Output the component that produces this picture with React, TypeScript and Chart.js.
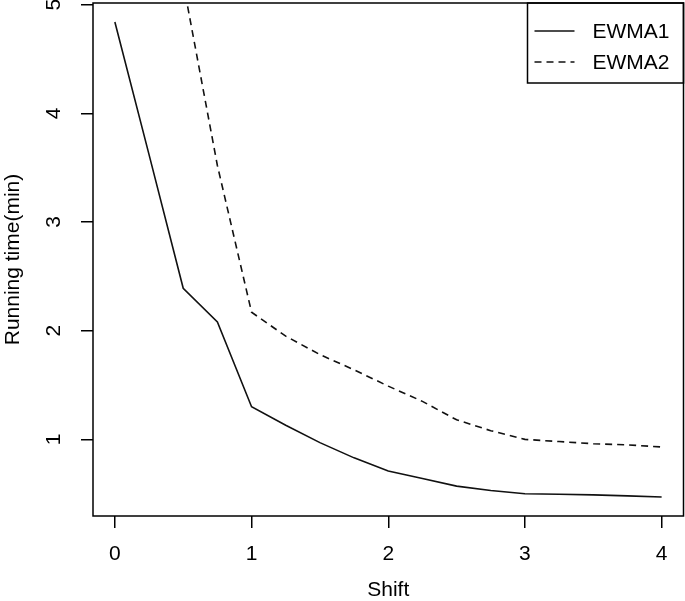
import React, { useEffect, useRef } from 'react';
import { Chart, registerables } from 'chart.js';

Chart.register(...registerables);

// ---- data ----
const shift1 = [0, 0.25, 0.5, 0.75, 1, 1.25, 1.5, 1.75, 2, 2.25, 2.5, 2.75, 3, 3.25, 3.5, 3.75, 4];
const ewma1 = [4.84, 3.62, 2.39, 2.08, 1.3, 1.13, 0.97, 0.83, 0.71, 0.64, 0.57, 0.53, 0.5, 0.495, 0.49, 0.48, 0.47];
const shift2 = [0.5, 0.75, 1, 1.25, 1.5, 1.75, 2, 2.25, 2.5, 2.75, 3, 3.25, 3.5, 3.75, 4];
const ewma2 = [5.2, 3.52, 2.17, 1.95, 1.78, 1.64, 1.49, 1.35, 1.18, 1.08, 1.0, 0.98, 0.96, 0.95, 0.93];
const seriesNames = ['EWMA1', 'EWMA2'];
const xTicks = [0, 1, 2, 3, 4];
const yTicks = [1, 2, 3, 4, 5];
const xTitle = 'Shift';
const yTitle = 'Running time(min)';

const FONT = "'Liberation Sans', Arial, Helvetica, sans-serif";
const INK = '#000000';

export default function App() {
  const ref = useRef<HTMLCanvasElement>(null);

  useEffect(() => {
    const canvas = ref.current;
    if (!canvas) return;

    // R-style axis ranges (4% extension of data range)
    const xLo = Math.min(...shift1), xHi = Math.max(...shift1);
    const xExt = 0.04 * (xHi - xLo);
    const yLo = Math.min(...ewma1), yHi = Math.max(...ewma1);
    const yExt = 0.04 * (yHi - yLo);

    const framePlugin = {
      id: 'rframe',
      afterDraw(chart: any) {
        const { ctx, chartArea: a } = chart;
        ctx.save();
        ctx.setLineDash([]);
        ctx.strokeStyle = INK;
        ctx.lineWidth = 1.5;
        ctx.strokeRect(a.left, a.top, a.right - a.left, a.bottom - a.top);

        // legend box at top-right
        const lw = 156;
        const lh = 80;
        const lx = a.right - lw;
        const ly = a.top;
        ctx.strokeRect(lx, ly, lw, lh);
        chart.data.datasets.forEach((ds: any, i: number) => {
          const y = ly + 28 + i * 31;
          ctx.beginPath();
          ctx.setLineDash(ds.borderDash || []);
          ctx.lineWidth = ds.borderWidth;
          ctx.strokeStyle = ds.borderColor;
          ctx.moveTo(lx + 7, y);
          ctx.lineTo(lx + 47, y);
          ctx.stroke();
          ctx.setLineDash([]);
          ctx.fillStyle = INK;
          ctx.font = `21px ${FONT}`;
          ctx.textBaseline = 'middle';
          ctx.textAlign = 'left';
          ctx.fillText(ds.label, lx + 65, y + 1);
        });
        ctx.restore();
      },
    };

    const chart = new Chart(canvas, {
      type: 'line',
      data: {
        datasets: [
          {
            label: seriesNames[0],
            data: shift1.map((x, i) => ({ x, y: ewma1[i] })),
            borderColor: '#111111',
            borderWidth: 1.6,
            pointRadius: 0,
            tension: 0,
            fill: false,
          },
          {
            label: seriesNames[1],
            data: shift2.map((x, i) => ({ x, y: ewma2[i] })),
            borderColor: '#111111',
            borderWidth: 1.6,
            borderDash: [7, 5],
            pointRadius: 0,
            tension: 0,
            fill: false,
          },
        ],
      },
      options: {
        animation: false,
        responsive: true,
        maintainAspectRatio: false,
        layout: { padding: { top: 3, right: 1.5, left: 0, bottom: 0 } },
        plugins: {
          legend: { display: false },
          tooltip: { enabled: false },
        },
        scales: {
          x: {
            type: 'linear',
            min: xLo - xExt,
            max: xHi + xExt,
            afterBuildTicks: (s: any) => {
              s.ticks = xTicks.map((v) => ({ value: v }));
            },
            afterFit: (s: any) => {
              s.height = 85;
              s.paddingLeft = 0;
              s.paddingRight = 0;
            },
            ticks: {
              font: { family: FONT, size: 21 },
              color: INK,
              padding: 14,
              autoSkip: false,
              maxRotation: 0,
              minRotation: 0,
              callback: (v: any) => String(v),
            },
            grid: {
              display: true,
              drawOnChartArea: false,
              drawTicks: true,
              tickLength: 12,
              color: INK,
              lineWidth: 1.5,
            },
            border: { display: false },
            title: {
              display: true,
              text: xTitle,
              color: INK,
              font: { family: FONT, size: 21, lineHeight: 1 },
              padding: { top: 0, bottom: 0 },
            },
          },
          y: {
            type: 'linear',
            min: yLo - yExt,
            max: yHi + yExt,
            afterBuildTicks: (s: any) => {
              s.ticks = yTicks.map((v) => ({ value: v }));
            },
            afterFit: (s: any) => {
              s.width = 93;
              s.paddingTop = 0;
              s.paddingBottom = 0;
            },
            ticks: {
              font: { family: FONT, size: 21 },
              color: INK,
              padding: 21,
              autoSkip: false,
              minRotation: 90,
              maxRotation: 90,
              crossAlign: 'center',
              callback: (v: any) => String(v),
            },
            grid: {
              display: true,
              drawOnChartArea: false,
              drawTicks: true,
              tickLength: 12,
              color: INK,
              lineWidth: 1.5,
            },
            border: { display: false },
            title: {
              display: true,
              text: yTitle,
              color: INK,
              font: { family: FONT, size: 21, lineHeight: 1 },
              padding: { top: 2.5, bottom: 0 },
            },
          },
        },
      },
      plugins: [framePlugin],
    } as any);

    return () => chart.destroy();
  }, []);

  return (
    <div
      style={{
        position: 'fixed',
        left: 0,
        top: 0,
        width: 685,
        height: 601,
        background: '#ffffff',
      }}
    >
      <canvas ref={ref} />
    </div>
  );
}
